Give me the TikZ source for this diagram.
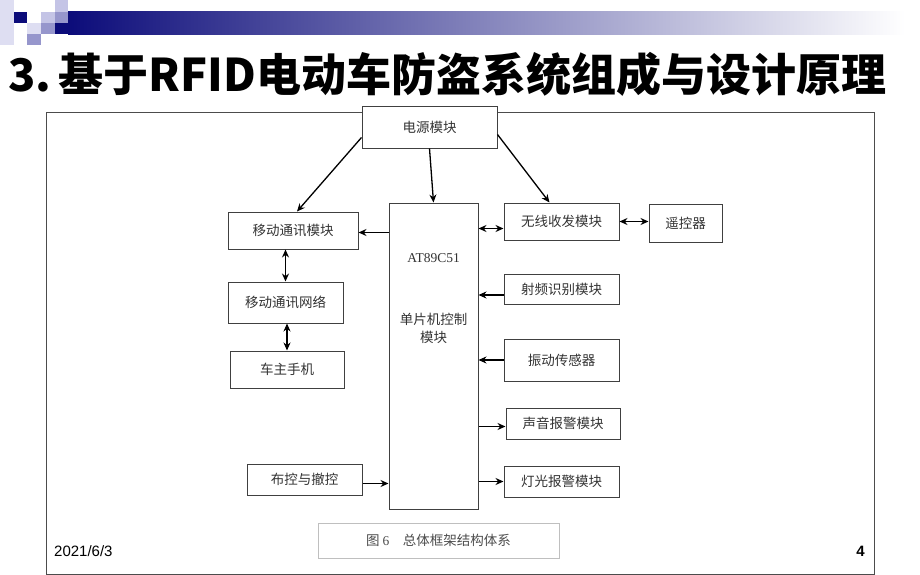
\documentclass[tikz,border=0pt]{standalone}
\usepackage{fontspec}
\setmainfont{Liberation Serif}
\newfontfamily\cjk{Noto Sans CJK SC}
\newfontfamily\arialfont{Liberation Sans}
\usetikzlibrary{arrows.meta}

\definecolor{barnavy}{RGB}{12,12,122}
\definecolor{sqpale}{RGB}{222,222,242}
\definecolor{sqlight}{RGB}{196,196,230}
\definecolor{sqmid}{RGB}{150,150,204}

\tikzset{
  blk/.style={draw=black!75, line width=1pt, fill=white, inner sep=0pt,
    font=\cjk\fontsize{13.5}{15}\selectfont, text=black!80},
  arr/.style={-{Stealth[length=8pt,width=7pt]}, line width=1.3pt},
  darr/.style={{Stealth[length=8pt,width=7pt]}-{Stealth[length=8pt,width=7pt]}, line width=1.3pt},
}

\begin{document}
\begin{tikzpicture}[x=1pt,y=-1pt]
    \useasboundingbox (0,0) rectangle (920,575);

    % Slide decoration: little squares and the fading bar
    \fill[sqpale] (0,0) rectangle (13.5,45);
    \fill[barnavy] (13.5,11.7) rectangle (27,23);
    \fill[sqpale] (27,23) rectangle (41,34.3);
    \fill[sqmid] (27,34.3) rectangle (41,45);
    \fill[sqlight] (41,11.7) rectangle (55,23);
    \fill[sqmid] (41,23) rectangle (55,34.3);
    \fill[sqlight] (55,0) rectangle (68,11.7);
    \fill[sqmid] (55,11.7) rectangle (68,23);
    \fill[barnavy] (55,23) rectangle (68,34.3);
    \shade[left color=barnavy, right color=white] (68,11.7) rectangle (905,34.3);

    % Title
    \node[anchor=west, inner sep=0pt, font=\cjk\bfseries\fontsize{45}{50}\selectfont] (title) at (8,74)
        {3.\,基于RFID电动车防盗系统组成与设计原理};

    % Frame round the figure
    \draw[black!70, line width=1pt] (46,113) rectangle (874,574);

    % Blocks
    \node[blk, minimum width=135pt, minimum height=41pt] (pwr) at (429.5,127.5) {电源模块};
    \node[blk, minimum width=130pt, minimum height=37pt] (mob) at (293,230.5) {移动通讯模块};
    \node[blk, minimum width=115pt, minimum height=41pt] (net) at (285.5,302.5) {移动通讯网络};
    \node[blk, minimum width=114pt, minimum height=37pt] (phone) at (287,369.5) {车主手机};
    \node[blk, minimum width=115pt, minimum height=31pt] (arm) at (304.5,479.5) {布控与撤控};
    \node[blk, minimum width=89pt, minimum height=306pt] (ctrl) at (433.5,356) {};
    \node[blk, draw=none, fill=none, font=\fontsize{13.5}{15}\selectfont] (mcu) at (433.5,258) {AT89C51};
    \node[blk, draw=none, fill=none, align=center] (mcutxt) at (433.5,328) {单片机控制\\[3pt]模块};
    \node[blk, minimum width=115pt, minimum height=37pt] (wl) at (561.5,221.5) {无线收发模块};
    \node[blk, minimum width=73pt, minimum height=38pt] (rc) at (685.5,223) {遥控器};
    \node[blk, minimum width=115pt, minimum height=30pt] (rf) at (561.5,289) {射频识别模块};
    \node[blk, minimum width=115pt, minimum height=42pt] (vib) at (561.5,360) {振动传感器};
    \node[blk, minimum width=114pt, minimum height=31pt] (snd) at (563,423.5) {声音报警模块};
    \node[blk, minimum width=115pt, minimum height=31pt] (lamp) at (561.5,481.5) {灯光报警模块};

    % Power supply feeds
    \draw[arr] ([yshift=-10pt]pwr.west) -- ([xshift=4pt]mob.north);
    \draw[arr] (pwr.south) -- (ctrl.north);
    \draw[arr] ([yshift=-7pt]pwr.east) -- ([xshift=-12pt]wl.north);

    % Left side: phone link
    \draw[arr] ([yshift=-2pt]mob.east -| ctrl.west) -- ([yshift=-2pt]mob.east);
    \draw[darr] (net.north) -- (net.north |- mob.south);
    \draw[darr] (phone.north) -- (phone.north |- net.south);
    \draw[arr] ([yshift=-4pt]arm.east) -- ([yshift=-4pt]arm.east -| ctrl.west);

    % Right side: radio, sensors, alarms
    \draw[darr] ([yshift=-7pt]wl.west -| ctrl.east) -- ([yshift=-7pt]wl.west);
    \draw[darr] (wl.east) -- (wl.east -| rc.west);
    \draw[arr] ([yshift=-6pt]rf.west) -- ([yshift=-6pt]rf.west -| ctrl.east);
    \draw[arr] (vib.west) -- (vib.west -| ctrl.east);
    \draw[arr] ([yshift=-3pt]snd.west -| ctrl.east) -- ([yshift=-3pt]snd.west);
    \draw[arr] (lamp.west -| ctrl.east) -- (lamp.west);

    % Caption and footer
    \node[draw=black!25, line width=0.6pt, minimum width=241pt, minimum height=35pt, inner sep=0pt,
        font=\cjk\fontsize{13.5}{15}\selectfont, text=black!70] (cap) at (438.5,540.5)
        {图~{\rmfamily 6}\quad 总体框架结构体系};
    \node[anchor=west, inner sep=0pt, font=\arialfont\fontsize{15}{17}\selectfont] (date) at (54,551) {2021/6/3};
    \node[anchor=east, inner sep=0pt, font=\arialfont\bfseries\fontsize{15}{17}\selectfont] (pgno) at (865,551) {4};

\end{tikzpicture}
\end{document}
